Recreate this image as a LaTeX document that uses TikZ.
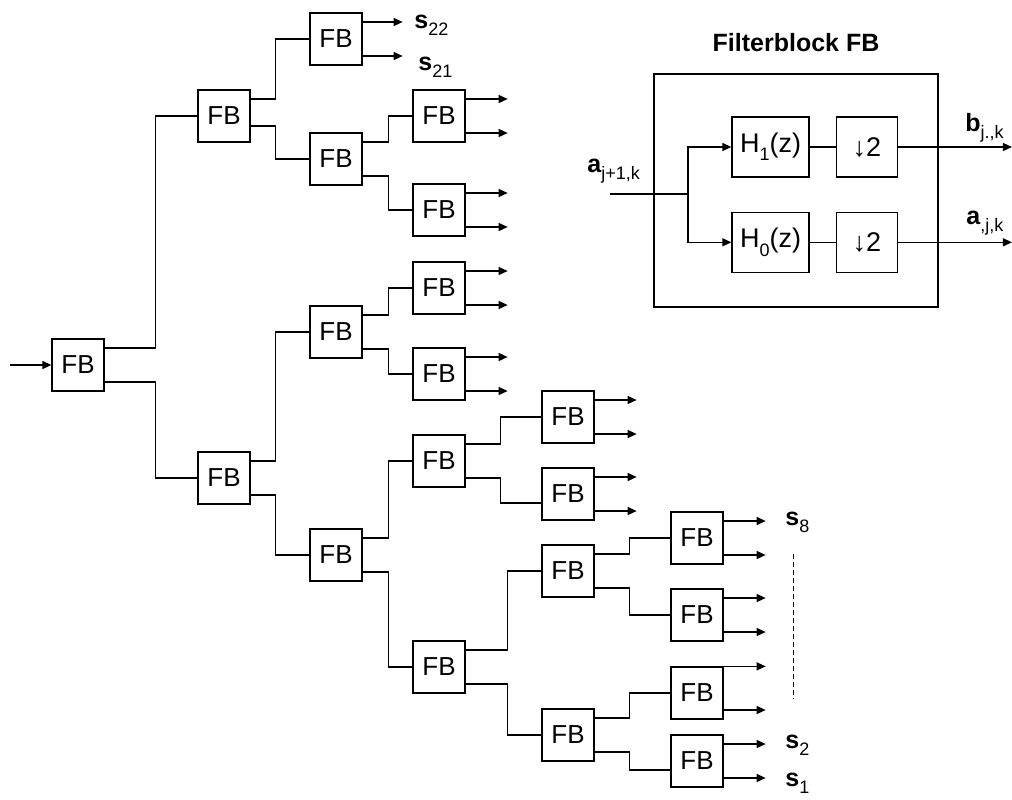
\documentclass[tikz,border=0pt]{standalone}
\usepackage{fontspec}
\setmainfont{Liberation Sans}
\usepackage{tikz}
\usetikzlibrary{arrows.meta, positioning}
\newcommand{\sbs}[1]{\raisebox{-0.3em}{\fontsize{9}{9}\selectfont\mdseries #1}}

\begin{document}
\begin{tikzpicture}[x=0.5pt, y=-0.5pt,
  font=\fontsize{13}{15}\selectfont,
  fbbox/.style={rectangle, draw, line width=0.65pt, minimum size=26pt,
               inner sep=0pt, on grid},
  op/.style={rectangle, draw, line width=0.65pt, minimum height=30pt,
               inner sep=0pt, font=\fontsize{13.5}{15}\selectfont},
  ln/.style={line width=0.65pt},
  fl/.style={-{Triangle[length=4.5pt, width=4pt]}, line width=0.65pt},
  lbl/.style={anchor=base west, inner sep=0pt, font=\fontsize{12.5}{15}\selectfont}
]
\useasboundingbox (0,0) rectangle (1012,799);

% ---- Baum aus Filterbloecken ----
\node[fbbox] (fb) at (78,365) {FB};
\node[fbbox, above right=124.5pt and 73pt of fb] (fbu) {FB};
\node[fbbox, below right=56.5pt and 73pt of fb] (fbd) {FB};
\node[fbbox, above right=38.5pt and 56pt of fbu] (fbuu) {FB};
\node[fbbox, below right=21.5pt and 56pt of fbu] (fbud) {FB};
\node[fbbox, above right=73pt and 56pt of fbd] (fbdu) {FB};
\node[fbbox, below right=38.5pt and 56pt of fbd] (fbdd) {FB};
\node[fbbox, above right=21.5pt and 51.5pt of fbud] (fbudu) {FB};
\node[fbbox, below right=25.5pt and 51.5pt of fbud] (fbudd) {FB};
\node[fbbox, above right=22pt and 51.5pt of fbdu] (fbduu) {FB};
\node[fbbox, below right=21pt and 51.5pt of fbdu] (fbdud) {FB};
\node[fbbox, above right=47pt and 51.5pt of fbdd] (fbddu) {FB};
\node[fbbox, below right=56pt and 51.5pt of fbdd] (fbddd) {FB};
\node[fbbox, above right=22pt and 64.5pt of fbddu] (fbdduu) {FB};
\node[fbbox, below right=16.5pt and 64.5pt of fbddu] (fbddud) {FB};
\node[fbbox, above right=48pt and 64.5pt of fbddd] (fbdddu) {FB};
\node[fbbox, below right=34pt and 64.5pt of fbddd] (fbdddd) {FB};
\node[fbbox, above right=16.5pt and 64.5pt of fbdddu] (fbddduu) {FB};
\node[fbbox, below right=22pt and 64.5pt of fbdddu] (fbdddud) {FB};
\node[fbbox, above right=21pt and 64.5pt of fbdddd] (fbddddu) {FB};
\node[fbbox, below right=13pt and 64.5pt of fbdddd] (fbddddd) {FB};

\coordinate (ein) at (10,365);
\draw[fl] (ein) -- (fb.west);
\draw[ln] ([yshift=8.5pt]fb.east) -- ++(25.5pt,0) |- (fbu.west);
\draw[ln] ([yshift=-8.5pt]fb.east) -- ++(25.5pt,0) |- (fbd.west);
\draw[ln] ([yshift=8.5pt]fbu.east) -- ++(12.5pt,0) |- (fbuu.west);
\draw[ln] ([yshift=-5pt]fbu.east) -- ++(12.5pt,0) |- (fbud.west);
\draw[ln] ([yshift=8.5pt]fbd.east) -- ++(12.5pt,0) |- (fbdu.west);
\draw[ln] ([yshift=-8.5pt]fbd.east) -- ++(12.5pt,0) |- (fbdd.west);
\draw[ln] ([yshift=8.5pt]fbud.east) -- ++(13pt,0) |- (fbudu.west);
\draw[ln] ([yshift=-8.5pt]fbud.east) -- ++(13pt,0) |- (fbudd.west);
\draw[ln] ([yshift=8.5pt]fbdu.east) -- ++(13pt,0) |- (fbduu.west);
\draw[ln] ([yshift=-8.5pt]fbdu.east) -- ++(13pt,0) |- (fbdud.west);
\draw[ln] ([yshift=8.5pt]fbdd.east) -- ++(13pt,0) |- (fbddu.west);
\draw[ln] ([yshift=-8.5pt]fbdd.east) -- ++(13pt,0) |- (fbddd.west);
\draw[ln] ([yshift=8.5pt]fbddu.east) -- ++(17.5pt,0) |- (fbdduu.west);
\draw[ln] ([yshift=-8.5pt]fbddu.east) -- ++(17.5pt,0) |- ([yshift=-4.5pt]fbddud.west);
\draw[ln] ([yshift=8.5pt]fbddd.east) -- ++(21pt,0) |- (fbdddu.west);
\draw[ln] ([yshift=-8.5pt]fbddd.east) -- ++(21pt,0) |- (fbdddd.west);
\draw[ln] ([yshift=8.5pt]fbdddu.east) -- ++(17.5pt,0) |- (fbddduu.west);
\draw[ln] ([yshift=-8.5pt]fbdddu.east) -- ++(17.5pt,0) |- (fbdddud.west);
\draw[ln] ([yshift=8.5pt]fbdddd.east) -- ++(17.5pt,0) |- (fbddddu.west);
\draw[ln] ([yshift=-8.5pt]fbdddd.east) -- ++(17.5pt,0) |- ([yshift=-4.5pt]fbddddd.west);

% ---- Ausgaenge ----
\draw[fl] ([yshift=8.5pt]fbuu.east) -- ++(20pt,0);   \draw[fl] ([yshift=-8.5pt]fbuu.east) -- ++(20pt,0);
\draw[fl] ([yshift=8.5pt]fbudu.east) -- ++(21pt,0);  \draw[fl] ([yshift=-8.5pt]fbudu.east) -- ++(21pt,0);
\draw[fl] ([yshift=8.5pt]fbudd.east) -- ++(21pt,0);  \draw[fl] ([yshift=-8.5pt]fbudd.east) -- ++(21pt,0);
\draw[fl] ([yshift=8.5pt]fbduu.east) -- ++(21pt,0);  \draw[fl] ([yshift=-8.5pt]fbduu.east) -- ++(21pt,0);
\draw[fl] ([yshift=8.5pt]fbdud.east) -- ++(21pt,0);  \draw[fl] ([yshift=-8.5pt]fbdud.east) -- ++(21pt,0);
\draw[fl] ([yshift=8.5pt]fbdduu.east) -- ++(21pt,0); \draw[fl] ([yshift=-8.5pt]fbdduu.east) -- ++(21pt,0);
\draw[fl] ([yshift=8.5pt]fbddud.east) -- ++(21pt,0); \draw[fl] ([yshift=-8.5pt]fbddud.east) -- ++(21pt,0);
\draw[fl] ([yshift=8.5pt]fbddduu.east) -- ++(21pt,0); \draw[fl] ([yshift=-8.5pt]fbddduu.east) -- ++(21pt,0);
\draw[fl] ([yshift=8.5pt]fbdddud.east) -- ++(21pt,0); \draw[fl] ([yshift=-8.5pt]fbdddud.east) -- ++(21pt,0);
\draw[fl] (fbddddu.north east) -- ++(21pt,0);          \draw[fl] ([yshift=-8.5pt]fbddddu.east) -- ++(21pt,0);
\draw[fl] ([yshift=8.5pt]fbddddd.east) -- ++(21pt,0); \draw[fl] ([yshift=-8.5pt]fbddddd.east) -- ++(21pt,0);

\node[lbl] (s22) at (414,28) {\textbf{s}\sbs{22}};
\node[lbl] (s21) at (418,70) {\textbf{s}\sbs{21}};
\node[lbl] (s8) at (785,525) {\textbf{s}\sbs{8}};
\node[lbl] (s2) at (785,748) {\textbf{s}\sbs{2}};
\node[lbl] (s1) at (785,786) {\textbf{s}\sbs{1}};
\coordinate (dtop) at (793,554);
\coordinate (dbot) at (793,699);
\draw[line width=0.5pt, dash pattern=on 2.5pt off 1.5pt] (dtop) -- (dbot);

% ---- Filterblock FB ----
\node[draw, line width=0.65pt, minimum width=142pt, minimum height=116.5pt] (rahmen) at (796,190.5) {};
\node[inner sep=0pt, font=\bfseries\fontsize{12.5}{15}\selectfont, above=10.5pt of rahmen] (titel) {Filterblock FB};
\node[op, minimum width=38.5pt] (h1) at (770.5,147) {H\sbs{1}(z)};
\node[op, minimum width=30.5pt, right=13pt of h1] (d1) {↓2};
\node[op, minimum width=38.5pt, below=17pt of h1] (h0) {H\sbs{0}(z)};
\node[op, minimum width=30.5pt, right=13pt of h0] (d0) {↓2};
\coordinate (ain) at (610,194);
\coordinate (abzw) at (688,194);
\draw[ln] (ain) -- (abzw);
\draw[fl] (abzw) |- (h1.west);
\draw[fl] (abzw) |- (h0.west);
\draw[ln] (h1) -- (d1);
\draw[ln] (h0) -- (d0);
\draw[fl] (d1.east) -- ++(57pt,0);
\draw[fl] (d0.east) -- ++(57pt,0);
\node[lbl] (aein) at (587,172) {\textbf{a}\sbs{j+1,k}};
\node[lbl] (bout) at (965,131) {\textbf{b}\sbs{j.,k}};
\node[lbl] (aout) at (966,224) {\textbf{a}\sbs{,j,k}};
\end{tikzpicture}
\end{document}
